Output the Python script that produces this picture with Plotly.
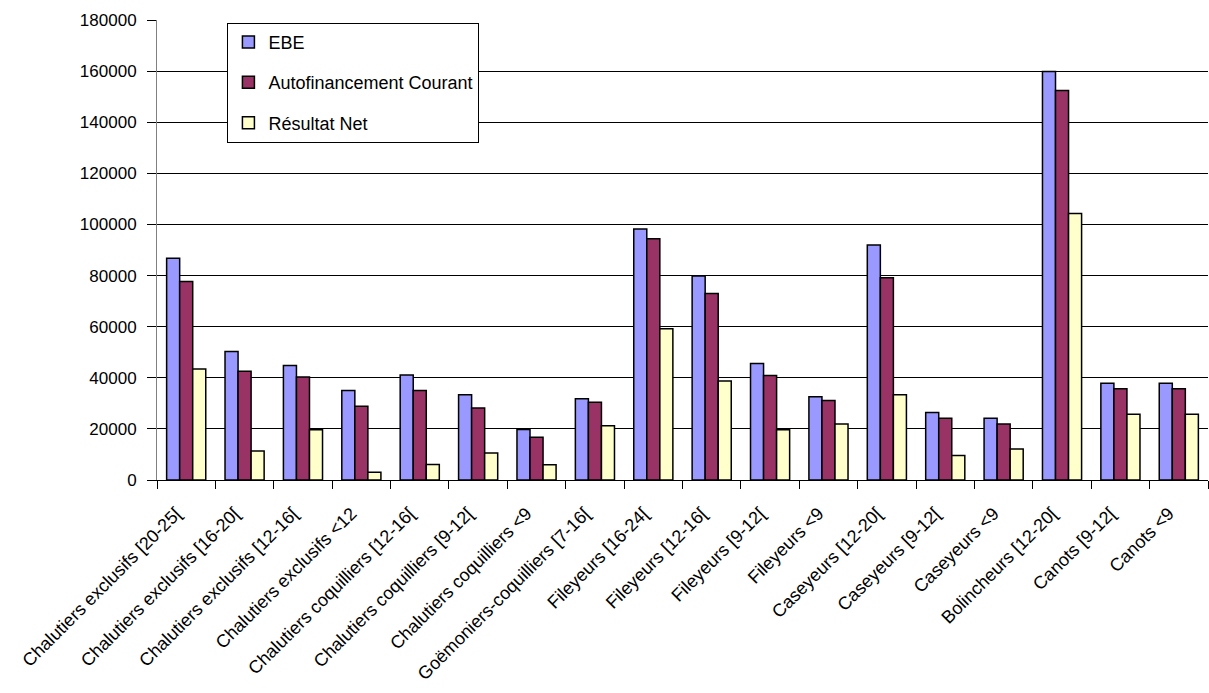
import plotly.graph_objects as go

categories = [
    "Chalutiers exclusifs [20-25[",
    "Chalutiers exclusifs [16-20[",
    "Chalutiers exclusifs [12-16[",
    "Chalutiers exclusifs <12",
    "Chalutiers coquilliers [12-16[",
    "Chalutiers coquilliers [9-12[",
    "Chalutiers coquilliers <9",
    "Goëmoniers-coquilliers [7-16[",
    "Fileyeurs [16-24[",
    "Fileyeurs [12-16[",
    "Fileyeurs [9-12[",
    "Fileyeurs <9",
    "Caseyeurs [12-20[",
    "Caseyeurs [9-12[",
    "Caseyeurs <9",
    "Bolincheurs [12-20[",
    "Canots [9-12[",
    "Canots <9",
]

ebe = [86800, 50300, 44800, 35000, 41100, 33400, 19800, 31800, 98200, 79800,
       45600, 32600, 92000, 26400, 24200, 159800, 37900, 37900]
autofinancement = [77700, 42600, 40300, 28900, 35000, 28200, 16700, 30400, 94400, 73000,
                   40900, 31100, 79100, 24200, 21900, 152400, 35700, 35700]
resultat_net = [43400, 11300, 19700, 3000, 6100, 10600, 6000, 21200, 59200, 38700,
                19700, 21900, 33400, 9600, 12100, 104300, 25700, 25700]

series_names = ["EBE", "Autofinancement Courant", "Résultat Net"]
series_values = [ebe, autofinancement, resultat_net]
series_colors = ["#9999FF", "#993366", "#FFFFCC"]

y_ticks = list(range(0, 180001, 20000))

FONT = "Liberation Sans, Arial, sans-serif"

fig = go.Figure()
for name, vals, col in zip(series_names, series_values, series_colors):
    fig.add_trace(go.Bar(
        x=categories, y=vals, name=name, legendgroup=name,
        marker=dict(color=col, line=dict(color="#000000", width=1.5)),
    ))

fig.update_layout(
    width=1209, height=693,
    margin=dict(l=157, r=1, t=20, b=213, pad=0),
    paper_bgcolor="white", plot_bgcolor="white",
    font=dict(family=FONT, size=17, color="#000000"),
    barmode="group", bargap=0.33, bargroupgap=0,
    hovermode=False,
    showlegend=True,
    legend=dict(
        x=0.067, y=0.994, xanchor="left", yanchor="top",
        bgcolor="white", bordercolor="#000000", borderwidth=1,
        font=dict(family=FONT, size=18),
        tracegroupgap=14, traceorder="grouped",
    ),
    xaxis=dict(
        type="category", tickangle=-45, tickson="boundaries",
        ticks="outside", ticklen=8, tickcolor="#000000",
        showline=True, linecolor="#000000", linewidth=1,
        showgrid=False, tickfont=dict(size=18),
        ticklabelstandoff=15, ticklabelshift=-10, automargin=False,
    ),
    yaxis=dict(
        range=[0, 180000], tickvals=y_ticks, ticktext=[str(v) for v in y_ticks],
        ticks="outside", ticklen=9, tickcolor="#000000",
        showline=True, linecolor="#808080", linewidth=1,
        showgrid=True, gridcolor="#000000", gridwidth=1,
        zeroline=False, tickfont=dict(size=17), ticklabelstandoff=7,
        automargin=False,
    ),
)

fig.write_html(
    "out.html",
    config={"displayModeBar": False},
    post_script="document.body.style.margin='0';document.body.style.overflow='hidden';",
)
